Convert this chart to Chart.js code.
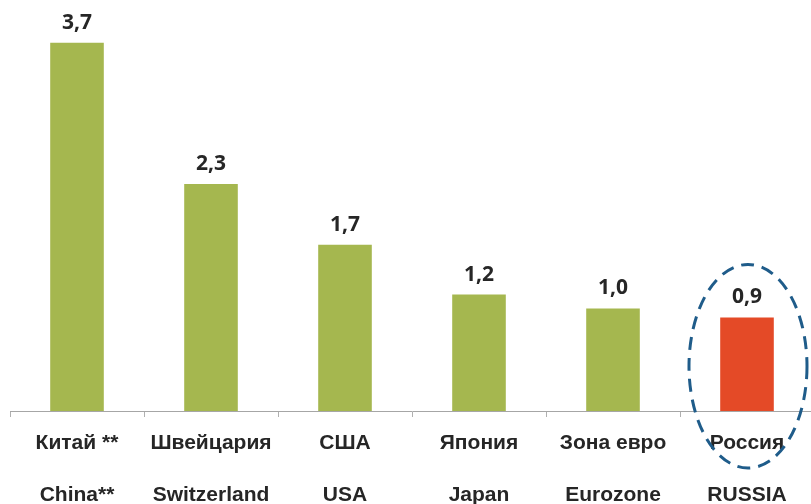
<!DOCTYPE html>
<html>
<head>
<meta charset="utf-8">
<script src="https://cdn.jsdelivr.net/npm/chart.js@4.4.0/dist/chart.umd.min.js"></script>
<style>
  html, body { margin: 0; padding: 0; background: #fff; overflow: hidden; }
  #wrap { width: 816px; height: 504px; }
</style>
</head>
<body>
<div id="wrap"><canvas id="myChart" width="816" height="504"></canvas></div>
<script>
const labelsRu = ['Китай **', 'Швейцария', 'США', 'Япония', 'Зона евро', 'Россия'];
const labelsEn = ['China**', 'Switzerland', 'USA', 'Japan', 'Eurozone', 'RUSSIA'];
const values = [3.7, 2.28, 1.67, 1.17, 1.03, 0.94];
const barColors = ['#a5b74f', '#a5b74f', '#a5b74f', '#a5b74f', '#a5b74f', '#e44a27'];
const highlightIndex = 5;

const canvas = document.getElementById('myChart');
const ctx = canvas.getContext('2d');

// value labels above the bars
const valueLabels = {
  id: 'valueLabels',
  afterDatasetsDraw(chart) {
    const c = chart.ctx;
    const meta = chart.getDatasetMeta(0);
    c.save();
    c.font = 'bold 21px "Open Sans", sans-serif';
    c.fillStyle = '#262626';
    c.textAlign = 'center';
    c.textBaseline = 'alphabetic';
    meta.data.forEach((bar, i) => {
      const txt = values[i].toFixed(1).replace('.', ',');
      c.fillText(txt, bar.x, bar.y - 14);
    });
    c.restore();
  }
};

// dashed ellipse around Russia
const ellipseMark = {
  id: 'ellipseMark',
  afterDraw(chart) {
    const c = chart.ctx;
    const bar = chart.getDatasetMeta(0).data[highlightIndex];
    const yScale = chart.scales.y;
    const top = yScale.getPixelForValue(values[highlightIndex]) - 53;
    const bottom = yScale.getPixelForValue(0) + 57;
    c.save();
    c.strokeStyle = '#1f5c8a';
    c.lineWidth = 3;
    c.setLineDash([13, 8]);
    c.beginPath();
    c.ellipse(bar.x + 1, (top + bottom) / 2, 59, (bottom - top) / 2, 0, 0, Math.PI * 2);
    c.stroke();
    c.restore();
  }
};

new Chart(ctx, {
  type: 'bar',
  data: {
    labels: labelsRu.map((r, i) => [r, labelsEn[i]]),
    datasets: [{
      data: values,
      backgroundColor: barColors,
      borderWidth: 0,
      barPercentage: 0.4,
      categoryPercentage: 1.0,
    }],
  },
  options: {
    responsive: false,
    animation: false,
    layout: { padding: { left: 10, right: 2, top: 0, bottom: 0 } },
    scales: {
      x: {
        afterFit(scale) { scale.height = 93; },
        grid: {
          offset: true,
          drawOnChartArea: false,
          drawTicks: true,
          tickLength: 6,
          color: '#b0b0b0',
        },
        border: { color: '#a6a6a6', width: 1 },
        ticks: {
          color: '#262626',
          font: { family: '"Liberation Sans", Arial, sans-serif', size: 21, weight: 'bold', lineHeight: 2.48 },
          padding: 0,
          maxRotation: 0,
          autoSkip: false,
        },
      },
      y: {
        display: false,
        min: 0,
        max: 4.13,
      },
    },
    plugins: {
      legend: { display: false },
      tooltip: { enabled: false },
    },
  },
  plugins: [valueLabels, ellipseMark],
});
</script>
</body>
</html>
